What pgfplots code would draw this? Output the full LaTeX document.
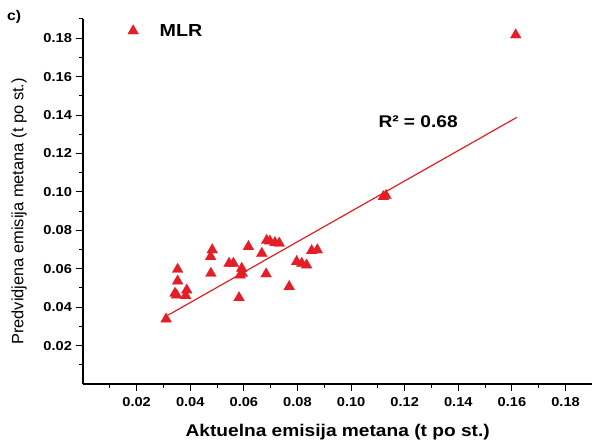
\documentclass[border=0pt]{standalone}
\usepackage{pgfplots}
\pgfplotsset{compat=1.18}
\usepackage{fontspec}
\setmainfont{Liberation Sans}[FakeStretch=1.13]
\newfontfamily\ylabfont{Liberation Sans}
\usetikzlibrary{calc}
\definecolor{mlrred}{RGB}{228,30,38}

% Predicted vs. actual methane emission, MLR model
\pgfplotstableread{
x y
0.0310 0.0338
0.0353 0.0597
0.0353 0.0536
0.0343 0.0472
0.0349 0.0463
0.0387 0.0489
0.0383 0.0460
0.0482 0.0698
0.0476 0.0663
0.0477 0.0576
0.0545 0.0628
0.0561 0.0628
0.0592 0.0602
0.0594 0.0576
0.0586 0.0567
0.0582 0.0449
0.0617 0.0715
0.0685 0.0747
0.0697 0.0744
0.0716 0.0736
0.0732 0.0733
0.0667 0.0680
0.0853 0.0694
0.0874 0.0698
0.0797 0.0637
0.0816 0.0628
0.0834 0.0619
0.0683 0.0573
0.0769 0.0507
0.1120 0.0975
0.1130 0.0981
0.1614 0.1817
}\mlrdata

\begin{document}
\begin{tikzpicture}
\begin{axis}[
  name=ax,
  scale only axis,
  width=509.4bp, height=365bp,
  xmin=0, xmax=0.19, ymin=0, ymax=0.19,
  axis x line*=bottom, axis y line*=left,
  axis line style={-, line width=1.3bp, black},
  xtick={0.02,0.04,0.06,0.08,0.10,0.12,0.14,0.16,0.18},
  ytick={0.02,0.04,0.06,0.08,0.10,0.12,0.14,0.16,0.18},
  minor xtick={0.01,0.03,0.05,0.07,0.09,0.11,0.13,0.15,0.17},
  minor ytick={0.01,0.03,0.05,0.07,0.09,0.11,0.13,0.15,0.17,0.19},
  tick align=outside,
  major tick length=6.5bp, minor tick length=3.5bp,
  every tick/.style={black, line width=1bp},
  scaled ticks=false,
  /pgf/number format/.cd, fixed, fixed zerofill, precision=2, assume math mode=true,
  /pgfplots/.cd,
  ticklabel style={font=\bfseries\fontsize{13}{15}\selectfont},
  xticklabel style={yshift=-3bp},
  yticklabel style={xshift=-1bp},
  xlabel={Aktuelna emisija metana (t po st.)},
  ylabel={Predvidjena emisija metana (t po st.)},
  xlabel style={font=\bfseries\fontsize{17}{19}\selectfont, at={(axis description cs:0.5,-0.1318)}, anchor=center},
  ylabel style={font=\ylabfont\fontsize{16.5}{19}\selectfont, at={(axis description cs:-0.1256,0.4726)}, anchor=center},
  clip=false,
  legend style={at={(axis cs:0.0166,0.1838)}, anchor=west, draw=none, fill=none,
    font=\bfseries\fontsize{17.5}{19}\selectfont, inner sep=0pt},
  legend cell align=left,
  legend image code/.code={\draw[mark repeat=2, mark phase=2, #1] plot coordinates {(0bp,0bp) (14bp,0bp) (28bp,0bp)};},
]
\addplot[only marks, mark=triangle*, mark size=6.3bp,
  mark options={fill=mlrred, draw=mlrred, line width=0.2bp}]
  table[x=x, y=y] {\mlrdata};
\addlegendentry{\hspace{19bp}MLR}
% linear fit
\addplot[mlrred, line width=1.2bp, no marks, forget plot] coordinates {(0.0318,0.0359) (0.1618,0.1388)};
\node[font=\bfseries\fontsize{17}{19}\selectfont] at (axis cs:0.125,0.1364) {R² = 0.68};
\node[font=\bfseries\fontsize{14}{16}\selectfont] at (axis cs:-0.0257,0.1911) {c)};
\end{axis}
\pgfresetboundingbox
\useasboundingbox ($(ax.south west)+(-83bp,-61bp)$) rectangle ($(ax.north east)+(0.6bp,19bp)$);
\end{tikzpicture}
\end{document}
